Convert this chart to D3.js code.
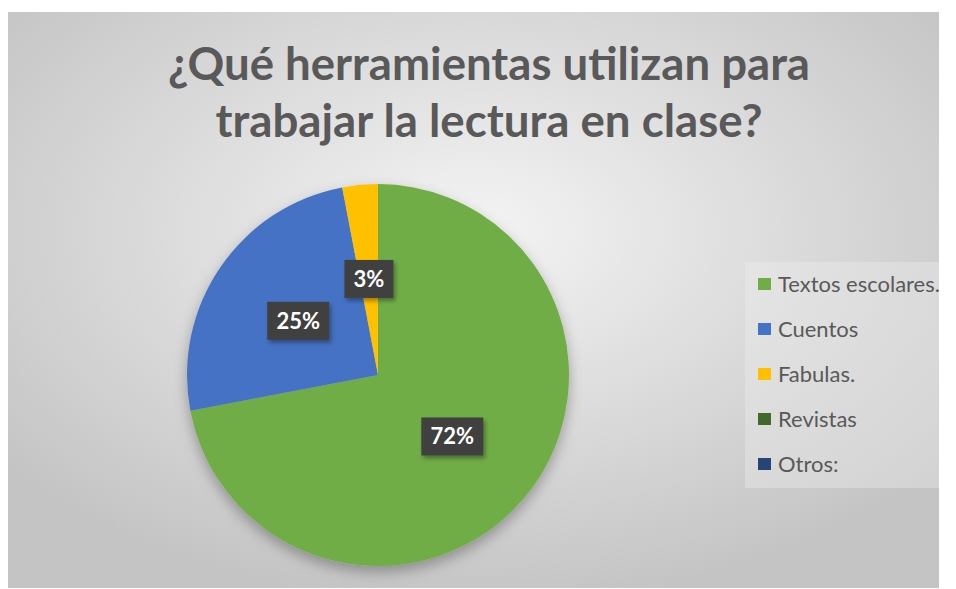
<!DOCTYPE html>
<meta charset="utf-8">
<head>
<style>
  body { margin: 0; background: #fff; }
  svg { display: block; font-family: Lato, "Open Sans", sans-serif; }
</style>
</head>
<body>
<script src="https://d3js.org/d3.v7.min.js"></script>
<div id="chart"></div>
<script>
// data
var categories = ["Textos escolares.", "Cuentos", "Fabulas.", "Revistas", "Otros:"];
var values = [72, 25, 3, 0, 0];
var colors = ["#70ad47", "#4472c4", "#ffc000", "#43682b", "#264478"];
var titleLines = ["¿Qué herramientas utilizan para", "trabajar la lectura en clase?"];

var W = 956, H = 589;
var svg = d3.select("#chart").append("svg")
    .attr("width", W)
    .attr("height", H);

var defs = svg.append("defs");
var grad = defs.append("radialGradient")
    .attr("id", "bg")
    .attr("cx", "50%").attr("cy", "38%").attr("r", "65%");
grad.append("stop").attr("offset", "0%").attr("stop-color", "#f4f4f4");
grad.append("stop").attr("offset", "100%").attr("stop-color", "#c4c4c4");

var shadow = defs.append("filter").attr("id", "shadow")
    .attr("x", "-20%").attr("y", "-20%").attr("width", "140%").attr("height", "150%");
shadow.append("feDropShadow")
    .attr("dx", 0).attr("dy", 6).attr("stdDeviation", 7)
    .attr("flood-color", "#000").attr("flood-opacity", 0.3);

var lblShadow = defs.append("filter").attr("id", "lblshadow")
    .attr("x", "-30%").attr("y", "-30%").attr("width", "160%").attr("height", "180%");
lblShadow.append("feDropShadow")
    .attr("dx", 2).attr("dy", 3).attr("stdDeviation", 2)
    .attr("flood-color", "#000").attr("flood-opacity", 0.35);

// chart area
svg.append("rect")
    .attr("x", 8).attr("y", 12)
    .attr("width", 931).attr("height", 576)
    .attr("fill", "url(#bg)");

// title
var title = svg.append("g");
var targetW = [642, 547];
titleLines.forEach(function(t, i) {
  var txt = title.append("text")
      .attr("x", 489)
      .attr("y", 80 + i * 57)
      .attr("text-anchor", "middle")
      .attr("font-weight", "bold")
      .attr("font-size", 40)
      .attr("fill", "#595959")
      .text(t);
  var w = txt.node().getComputedTextLength();
  txt.attr("font-size", 40 * targetW[i] / w);
});

// pie
var cx = 378, cy = 375, r = 191;
var pie = d3.pie().sort(null).value(function(d) { return d; });
var arcs = pie(values);
var arc = d3.arc().innerRadius(0).outerRadius(r);

var g = svg.append("g").attr("transform", "translate(" + cx + "," + cy + ")");
g.append("g").attr("filter", "url(#shadow)")
  .selectAll("path")
  .data(arcs)
  .enter().append("path")
    .attr("d", arc)
    .attr("fill", function(d, i) { return colors[i]; });

// data labels
var labelArc = d3.arc().innerRadius(r * 0.505).outerRadius(r * 0.505);
var labels = g.selectAll(".lbl")
  .data(arcs.filter(function(d) { return d.value > 0; }))
  .enter().append("g")
    .attr("class", "lbl")
    .attr("transform", function(d) {
      var c = labelArc.centroid(d);
      return "translate(" + c[0] + "," + c[1] + ")";
    });

labels.each(function(d) {
  var sel = d3.select(this);
  var txt = d3.format(".0f")(d.value) + "%";
  var bw = txt.length === 2 ? 49 : 62, bh = 38;
  sel.append("rect")
      .attr("x", -bw / 2).attr("y", -bh / 2)
      .attr("width", bw).attr("height", bh)
      .attr("fill", "#404040")
      .attr("filter", "url(#lblshadow)");
  sel.append("text")
      .attr("text-anchor", "middle")
      .attr("dy", "0.36em")
      .attr("font-size", 22)
      .attr("font-weight", "bold")
      .attr("fill", "#fff")
      .text(txt);
});

// legend
var legend = svg.append("g").attr("transform", "translate(745,262)");
legend.append("rect")
    .attr("width", 194).attr("height", 226)
    .attr("fill", "#f2f2f2").attr("opacity", 0.35);
var rows = legend.selectAll(".row")
  .data(categories)
  .enter().append("g")
    .attr("class", "row")
    .attr("transform", function(d, i) { return "translate(13," + (22 + i * 45) + ")"; });
rows.append("rect")
    .attr("x", 0).attr("y", -6)
    .attr("width", 13).attr("height", 12)
    .attr("fill", function(d, i) { return colors[i]; });
var legText = rows.append("text")
    .attr("x", 20)
    .attr("dy", "0.36em")
    .attr("font-size", 20)
    .attr("fill", "#595959")
    .text(function(d) { return d; });
// fit the longest entry to the width seen in the original
var lw = legText.nodes()[0].getComputedTextLength();
legText.attr("font-size", 20 * 162 / lw);
</script>
</body>
